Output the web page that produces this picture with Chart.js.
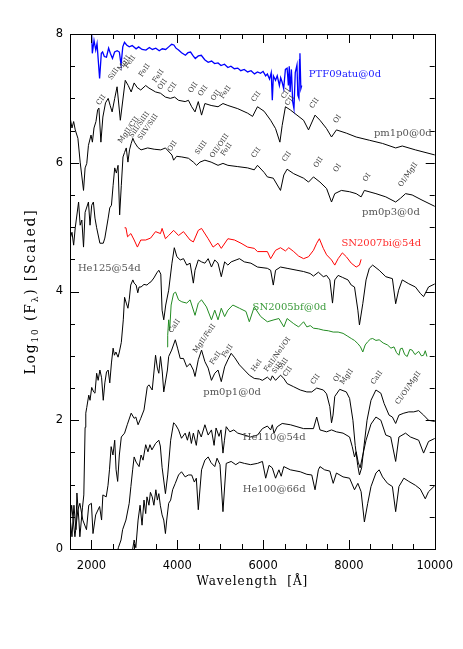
<!DOCTYPE html>
<html>
<head>
<meta charset="utf-8">
<script src="https://cdn.jsdelivr.net/npm/chart.js@4.4.1/dist/chart.umd.min.js"></script>
<style>
  body { margin: 0; background: #fff; }
  canvas { display: block; }
</style>
</head>
<body>
<canvas id="spectra" width="463" height="649"></canvas>
<script>
// spectra: [wavelength (A), log10 F scaled]
const ptf09atu = [[2000,8.10],[2020,7.70],[2060,7.90],[2100,7.75],[2130,7.85],[2190,7.31],[2230,7.70],[2260,7.72],[2300,7.65],[2350,7.64],[2400,7.78],[2440,7.70],[2490,7.62],[2540,7.72],[2600,7.74],[2650,7.72],[2690,7.52],[2730,7.80],[2770,7.87],[2820,7.83],[2880,7.80],[2950,7.82],[3040,7.77],[3100,7.80],[3180,7.76],[3270,7.75],[3350,7.79],[3420,7.76],[3500,7.78],[3580,7.74],[3650,7.77],[3730,7.76],[3800,7.80],[3870,7.84],[3920,7.83],[3970,7.78],[4030,7.75],[4100,7.71],[4190,7.67],[4250,7.71],[4310,7.72],[4370,7.66],[4420,7.62],[4490,7.66],[4560,7.67],[4640,7.60],[4720,7.56],[4800,7.58],[4870,7.54],[4950,7.55],[5020,7.51],[5100,7.53],[5180,7.48],[5250,7.50],[5330,7.46],[5410,7.47],[5480,7.43],[5560,7.45],[5640,7.41],[5720,7.43],[5800,7.38],[5870,7.41],[5940,7.39],[6000,7.42],[6060,7.35],[6100,7.38],[6150,7.30],[6190,7.40],[6215,6.97],[6240,7.35],[6290,7.28],[6330,7.35],[6380,7.20],[6410,7.32],[6445,7.25],[6480,7.15],[6520,7.45],[6560,7.47],[6590,7.20],[6610,7.50],[6630,7.10],[6660,7.45],[6690,6.95],[6720,6.84],[6750,7.40],[6790,7.52],[6810,7.05],[6836,7.00],[6850,7.60],[6859,7.70],[6880,7.15],[6900,7.20]];

const pm1p0 = [[1500,6.71],[1546,6.54],[1585,6.64],[1622,6.51],[1684,6.38],[1737,6.01],[1815,5.57],[1852,5.92],[1891,5.99],[1930,6.27],[1990,6.43],[2022,6.32],[2059,6.54],[2105,6.64],[2144,6.82],[2174,6.85],[2220,6.32],[2266,6.71],[2328,6.93],[2390,7.00],[2436,6.89],[2482,6.79],[2542,7.00],[2597,7.18],[2673,6.66],[2788,7.28],[2857,7.20],[2926,7.10],[2995,7.24],[3064,7.17],[3149,7.13],[3264,7.20],[3340,7.16],[3494,7.10],[3609,7.08],[3724,7.02],[3839,7.00],[3938,7.02],[4030,6.97],[4184,6.95],[4260,6.97],[4336,6.87],[4414,6.79],[4490,6.95],[4566,6.74],[4644,6.92],[4789,6.89],[4950,6.87],[5065,6.92],[5180,6.89],[5410,6.84],[5640,6.77],[5755,6.72],[5831,6.82],[5870,6.87],[6024,6.80],[6176,6.66],[6291,6.53],[6392,6.32],[6445,6.58],[6521,6.87],[6636,6.82],[6790,6.74],[6944,6.66],[7059,6.51],[7211,6.74],[7326,6.66],[7480,6.53],[7595,6.40],[7710,6.51],[7940,6.46],[8170,6.40],[8476,6.35],[8784,6.30],[9090,6.23],[9244,6.26],[9550,6.20],[10010,6.12]];

const pm0p3 = [[1500,5.03],[1507,4.83],[1546,4.92],[1585,4.72],[1622,4.99],[1700,5.39],[1737,5.03],[1776,5.11],[1815,4.69],[1852,5.23],[1930,5.39],[1967,5.03],[2006,5.34],[2045,5.39],[2082,5.14],[2121,4.99],[2197,4.75],[2275,4.75],[2312,4.83],[2390,5.14],[2427,5.30],[2466,5.34],[2505,5.65],[2542,5.92],[2581,5.84],[2620,5.96],[2657,5.19],[2696,5.65],[2735,6.09],[2772,6.16],[2811,6.23],[2850,6.01],[2887,6.20],[2926,6.30],[2965,6.38],[3002,6.32],[3080,6.24],[3156,6.20],[3310,6.23],[3462,6.21],[3616,6.20],[3724,6.23],[3876,6.12],[3915,6.04],[3984,6.10],[4106,6.09],[4260,6.07],[4375,6.01],[4451,5.96],[4529,6.01],[4644,6.04],[4789,6.01],[4950,5.96],[5065,5.99],[5180,5.96],[5410,5.94],[5640,5.92],[5794,5.89],[5870,5.96],[6024,5.85],[6100,5.78],[6238,5.76],[6406,5.57],[6483,5.81],[6560,5.90],[6714,5.83],[6944,5.76],[7059,5.70],[7174,5.78],[7326,5.70],[7480,5.60],[7595,5.39],[7671,5.52],[7825,5.57],[8016,5.55],[8170,5.52],[8285,5.47],[8361,5.57],[8630,5.52],[8860,5.47],[9090,5.39],[9205,5.45],[9320,5.52],[9474,5.50],[9704,5.42],[10010,5.32]];

const sn2007bi = [[2772,4.99],[2804,4.99],[2841,4.85],[2919,4.90],[2995,4.80],[3071,4.69],[3149,4.80],[3264,4.80],[3379,4.83],[3494,4.93],[3609,4.90],[3646,4.98],[3724,4.82],[3800,4.87],[3915,4.95],[4030,4.87],[4145,4.93],[4299,4.80],[4375,4.77],[4490,4.95],[4566,4.98],[4720,4.82],[4835,4.69],[4950,4.75],[5026,4.67],[5180,4.82],[5334,4.80],[5486,4.75],[5640,4.69],[5794,4.67],[5870,4.62],[6100,4.62],[6176,4.51],[6291,4.64],[6406,4.68],[6521,4.63],[6599,4.68],[6714,4.62],[6829,4.55],[6944,4.51],[7059,4.54],[7174,4.64],[7250,4.75],[7312,4.82],[7404,4.67],[7480,4.57],[7595,4.49],[7671,4.41],[7749,4.51],[7848,4.60],[7940,4.54],[8055,4.44],[8170,4.38],[8246,4.41],[8285,4.50]];

const he125 = [[1500,0.50],[1546,0.19],[1592,0.68],[1638,0.30],[1661,0.87],[1707,0.45],[1730,0.19],[1792,0.65],[1822,0.84],[1852,1.89],[1868,2.11],[1891,2.20],[1937,2.39],[1967,2.31],[2006,2.51],[2052,2.44],[2082,2.42],[2121,2.73],[2156,2.62],[2197,2.78],[2236,2.66],[2275,2.31],[2312,2.58],[2351,2.75],[2390,2.78],[2427,2.58],[2466,2.89],[2505,3.12],[2535,3.01],[2570,3.06],[2620,2.98],[2650,3.06],[2696,3.21],[2742,3.56],[2772,3.91],[2811,3.82],[2850,3.74],[2880,3.87],[2915,4.10],[2965,4.18],[2995,4.13],[3041,4.10],[3080,3.98],[3110,4.07],[3156,4.07],[3225,4.11],[3294,4.10],[3340,4.13],[3386,4.15],[3455,4.21],[3524,4.29],[3570,4.33],[3616,4.27],[3646,3.71],[3685,3.56],[3731,3.79],[3800,4.02],[3876,4.44],[3931,4.68],[3991,4.54],[4069,4.49],[4145,4.51],[4221,4.41],[4299,4.44],[4375,4.13],[4414,4.33],[4490,4.49],[4566,4.46],[4644,4.44],[4720,4.51],[4797,4.38],[4874,4.49],[4950,4.44],[5026,4.23],[5104,4.46],[5180,4.41],[5256,4.46],[5371,4.49],[5449,4.51],[5564,4.46],[5716,4.44],[5870,4.38],[6100,4.36],[6176,4.33],[6238,4.10],[6291,4.33],[6406,4.38],[6560,4.36],[6790,4.33],[6944,4.31],[7096,4.28],[7174,4.24],[7289,4.30],[7404,4.23],[7480,4.25],[7556,4.18],[7618,3.82],[7671,4.18],[7749,4.25],[7848,4.22],[7979,4.18],[8055,4.10],[8131,4.07],[8209,3.71],[8246,3.48],[8324,3.81],[8400,4.18],[8476,4.36],[8554,4.41],[8706,4.33],[8860,4.23],[9014,4.20],[9090,3.81],[9159,4.02],[9244,4.18],[9396,4.12],[9550,4.07],[9665,3.97],[9741,3.92],[9856,4.07],[10010,4.12]];

const sn2005bf = [[3761,3.14],[3777,3.32],[3800,3.56],[3823,3.40],[3857,3.79],[3915,3.97],[3961,3.99],[4030,3.87],[4106,3.84],[4221,3.82],[4299,3.87],[4414,3.63],[4490,3.82],[4566,3.87],[4681,3.76],[4797,3.56],[4874,3.71],[4950,3.56],[5026,3.74],[5104,3.61],[5180,3.71],[5295,3.79],[5449,3.74],[5601,3.69],[5679,3.53],[5794,3.76],[5946,3.61],[6100,3.53],[6254,3.56],[6369,3.58],[6484,3.45],[6560,3.58],[6714,3.50],[6829,3.45],[6944,3.53],[7020,3.45],[7100,3.47],[7174,3.43],[7290,3.42],[7404,3.40],[7520,3.39],[7634,3.37],[7750,3.37],[7864,3.35],[7960,3.31],[8055,3.27],[8130,3.24],[8209,3.19],[8270,3.14],[8324,3.06],[8380,3.17],[8439,3.22],[8500,3.26],[8554,3.27],[8630,3.24],[8706,3.25],[8800,3.20],[8899,3.17],[8980,3.12],[9051,3.14],[9110,3.05],[9166,3.01],[9200,3.11],[9244,3.12],[9300,3.02],[9359,2.99],[9420,3.10],[9474,3.09],[9540,3.02],[9626,3.07],[9690,3.00],[9741,3.01],[9780,3.08],[9819,2.99]];

const pm0p1 = [[1500,0.40],[1539,0.68],[1615,0.19],[1684,0.61],[1730,0.71],[1799,0.45],[1884,0.30],[1937,0.68],[1999,0.71],[2036,0.24],[2098,0.53],[2190,0.66],[2236,0.45],[2266,0.84],[2344,0.81],[2386,0.99],[2420,1.23],[2459,1.59],[2501,1.46],[2542,1.69],[2574,1.23],[2611,1.05],[2650,1.46],[2696,1.74],[2772,1.80],[2834,1.93],[2926,2.11],[2995,2.03],[3034,2.05],[3087,1.93],[3149,2.03],[3225,2.16],[3301,2.52],[3340,2.55],[3416,2.47],[3494,3.01],[3536,2.81],[3570,2.73],[3609,2.99],[3651,2.75],[3685,2.44],[3770,2.78],[3800,2.99],[3869,3.09],[3954,3.25],[4007,3.12],[4069,2.96],[4145,2.96],[4221,2.83],[4299,2.88],[4375,2.78],[4414,2.68],[4490,2.94],[4566,3.09],[4644,2.91],[4720,2.81],[4797,2.62],[4874,2.73],[4950,2.78],[5026,2.60],[5104,2.83],[5180,2.94],[5256,3.04],[5341,2.97],[5449,2.86],[5564,2.78],[5679,2.70],[5794,2.65],[5916,2.64],[5985,2.62],[6100,2.67],[6176,2.62],[6215,2.69],[6291,2.62],[6406,2.70],[6483,2.65],[6560,2.57],[6714,2.52],[6866,2.47],[7020,2.44],[7135,2.44],[7250,2.50],[7404,2.47],[7480,2.41],[7556,2.21],[7595,1.96],[7630,2.08],[7671,2.37],[7786,2.48],[7940,2.44],[8016,2.34],[8094,2.00],[8147,1.61],[8205,1.30],[8246,1.15],[8297,1.26],[8354,1.61],[8423,2.00],[8515,2.31],[8630,2.47],[8745,2.42],[8821,2.26],[8936,2.08],[9014,2.05],[9090,1.95],[9166,2.08],[9281,2.11],[9396,2.13],[9511,2.13],[9626,2.15],[9741,2.08],[9856,2.00],[10010,1.98]];

const he110 = [[2466,-0.40],[2558,-0.17],[2627,0.02],[2689,0.14],[2726,0.30],[2804,0.45],[2880,0.71],[2919,0.97],[2960,1.23],[2995,1.43],[3041,1.35],[3110,1.28],[3156,1.46],[3202,1.38],[3264,1.62],[3317,1.51],[3363,1.62],[3409,1.54],[3494,1.64],[3570,1.69],[3605,1.60],[3646,1.27],[3724,0.86],[3777,1.15],[3846,1.69],[3915,1.96],[3961,1.93],[4030,1.85],[4099,1.72],[4184,1.80],[4237,1.69],[4283,1.82],[4329,1.64],[4375,1.80],[4444,1.61],[4490,1.85],[4559,1.74],[4644,1.93],[4720,1.77],[4797,1.85],[4858,1.61],[4904,1.88],[4973,1.75],[5019,1.85],[5065,1.49],[5100,1.69],[5141,1.90],[5226,1.82],[5318,1.85],[5410,1.80],[5564,1.77],[5709,1.74],[5870,1.77],[5985,1.87],[6100,1.91],[6176,1.85],[6215,1.93],[6254,1.80],[6330,1.90],[6445,1.95],[6636,1.93],[6790,1.90],[6944,1.87],[7174,1.87],[7250,2.05],[7326,1.85],[7480,1.82],[7595,1.85],[7710,1.82],[7864,1.80],[8016,1.74],[8078,1.59],[8131,1.43],[8170,1.51],[8216,1.35],[8262,1.26],[8308,1.41],[8400,1.69],[8515,1.94],[8630,2.05],[8745,2.00],[8860,1.77],[8975,1.74],[9090,1.36],[9166,1.74],[9320,1.80],[9435,1.74],[9626,1.69],[9741,1.49],[9856,1.67],[10010,1.72]];

const he100 = [[2880,-0.33],[2949,-0.05],[2995,0.14],[3034,0.02],[3087,0.45],[3133,0.68],[3179,0.37],[3225,0.76],[3264,0.55],[3294,0.81],[3340,0.68],[3374,0.88],[3416,0.81],[3455,0.68],[3501,0.92],[3536,0.76],[3570,0.86],[3605,0.68],[3646,0.53],[3685,0.45],[3724,0.24],[3754,0.45],[3800,0.71],[3846,0.76],[3892,0.92],[3954,1.02],[4030,1.15],[4099,1.20],[4184,1.12],[4260,1.15],[4336,1.15],[4398,1.04],[4444,1.10],[4490,0.61],[4566,1.23],[4644,1.38],[4720,1.43],[4789,1.34],[4874,1.28],[4927,1.41],[4996,1.31],[5065,0.58],[5141,1.33],[5256,1.36],[5364,1.31],[5456,1.35],[5564,1.33],[5709,1.31],[5870,1.33],[5985,1.36],[6061,1.10],[6139,1.30],[6215,1.26],[6291,1.10],[6369,1.23],[6422,1.13],[6483,1.28],[6636,1.23],[6866,1.20],[7020,1.16],[7135,1.15],[7211,0.92],[7289,1.23],[7326,1.28],[7434,1.23],[7556,1.21],[7634,1.02],[7710,1.18],[7864,1.12],[8016,1.10],[8131,0.92],[8209,1.02],[8285,0.89],[8361,0.42],[8439,0.71],[8515,0.97],[8630,1.18],[8706,1.23],[8784,1.12],[8899,1.02],[9014,0.97],[9090,0.58],[9166,0.97],[9281,1.10],[9396,1.05],[9550,0.99],[9665,0.93],[9780,0.78],[9856,0.89],[10010,0.99]];

const xTicks = [2000, 4000, 6000, 8000, 10000];
const yTicks = [0, 2, 4, 6, 8];

const series = [
  { name: "PTF09atu@0d", points: ptf09atu, color: "#0000ff" },
  { name: "pm1p0@0d", points: pm1p0, color: "#000000" },
  { name: "pm0p3@0d", points: pm0p3, color: "#000000" },
  { name: "SN2007bi@54d", points: sn2007bi, color: "#ff0000" },
  { name: "He125@54d", points: he125, color: "#000000" },
  { name: "SN2005bf@0d", points: sn2005bf, color: "#228b22" },
  { name: "pm0p1@0d", points: pm0p1, color: "#000000" },
  { name: "He110@54d", points: he110, color: "#000000" },
  { name: "He100@66d", points: he100, color: "#000000" },
];

// where each spectrum name sits (data coords) and its colour
const nameTags = [
  ["PTF09atu@0d", 7066, 7.38, "#1a1aff"],
  ["pm1p0@0d", 8584, 6.46, "#555"],
  ["pm0p3@0d", 8308, 5.23, "#555"],
  ["SN2007bi@54d", 7825, 4.75, "#ff2a2a"],
  ["He125@54d", 1684, 4.36, "#555"],
  ["SN2005bf@0d", 5755, 3.76, "#3a9a3a"],
  ["pm0p1@0d", 4605, 2.44, "#555"],
  ["He110@54d", 5525, 1.74, "#555"],
  ["He100@66d", 5525, 0.92, "#555"],
];

// line identifications, bottom-left anchor in data coords
const lineIds = [
  ["CII", 2190, 6.89], ["SiII", 2466, 7.28], ["MgII", 2680, 7.42], ["FeII", 2840, 7.46],
  ["FeII", 3179, 7.33], ["FeII", 3501, 7.24], ["OII", 3616, 7.13], ["CII", 3846, 7.08],
  ["OII", 4329, 7.08], ["OII", 4559, 7.03], ["OII", 4858, 6.96], ["FeII", 5065, 6.99],
  ["CII", 5801, 6.94], ["CII", 6491, 6.99], ["CII", 6583, 6.88], ["CII", 7158, 6.84], ["OI", 7710, 6.61],
  ["MgII/CII", 2696, 6.30], ["SiII/SiIII", 2949, 6.38], ["SiIV/SiII", 3156, 6.35],
  ["OII", 3846, 6.17], ["SiIII", 4490, 6.12], ["OII/OIII", 4835, 6.07], ["FeII", 5088, 6.10],
  ["CII", 5801, 6.07], ["CII", 6514, 6.01], ["OII", 7250, 5.92], ["OI", 7710, 5.85],
  ["OI", 8400, 5.70], ["OI/MgII", 9228, 5.62],
  ["CaII", 3869, 3.35], ["MgII/FeII", 4444, 3.04], ["FeII", 4835, 2.86], ["FeII", 5111, 2.97],
  ["HeI", 5801, 2.75], ["FeII/NeI/OI", 6100, 2.75], ["SiII", 6284, 2.72], ["SiII", 6422, 2.78],
  ["CII", 6537, 2.67], ["CII", 7181, 2.55], ["OI", 7710, 2.59], ["MgII", 7871, 2.55],
  ["CaII", 8584, 2.55], ["CI/OI/MgII", 9159, 2.24],
];

const serif = "'DejaVu Serif', serif";
const sans = "'DejaVu Sans', sans-serif";

const framePlugin = {
  id: "frame",
  afterDatasetsDraw(chart) {
    const { ctx, chartArea: a, scales: { x, y } } = chart;
    ctx.save();
    ctx.strokeStyle = "#000";
    ctx.lineWidth = 1;
    const seg = (x1, y1, x2, y2) => { ctx.beginPath(); ctx.moveTo(x1, y1); ctx.lineTo(x2, y2); ctx.stroke(); };

    // box
    ctx.strokeRect(Math.round(a.left) + 0.5, Math.round(a.top) + 0.5,
      Math.round(a.right - a.left), Math.round(a.bottom - a.top));

    // inward ticks on all sides
    for (let v = 1500; v <= 10000; v += 500) {
      const px = Math.round(x.getPixelForValue(v)) + 0.5;
      const len = v % 2000 === 0 ? 9 : 5;
      seg(px, a.bottom, px, a.bottom - len);
      seg(px, a.top, px, a.top + len);
    }
    for (let v = 0; v <= 8; v += 0.5) {
      const py = Math.round(y.getPixelForValue(v)) + 0.5;
      const len = v % 2 === 0 ? 9 : 5;
      seg(a.left, py, a.left + len, py);
      seg(a.right, py, a.right - len, py);
    }

    // spectrum names
    ctx.font = "10px " + serif;
    ctx.textBaseline = "middle";
    ctx.textAlign = "left";
    nameTags.forEach(([t, w, f, c]) => {
      ctx.fillStyle = c;
      ctx.fillText(t, x.getPixelForValue(w), y.getPixelForValue(f));
    });

    // line ids, rotated
    ctx.font = "7px " + serif;
    ctx.fillStyle = "#333";
    ctx.textBaseline = "alphabetic";
    lineIds.forEach(([t, w, f]) => {
      ctx.save();
      ctx.translate(x.getPixelForValue(w), y.getPixelForValue(f));
      ctx.rotate(-55 * Math.PI / 180);
      ctx.fillText(t, 0, 0);
      ctx.restore();
    });

    // axis titles
    ctx.fillStyle = "#000";
    ctx.font = "12px " + serif;
    ctx.letterSpacing = "1px";
    ctx.textAlign = "center";
    ctx.textBaseline = "middle";
    ctx.fillText("Wavelength  [\u00c5]", (a.left + a.right) / 2, a.bottom + 33);

    const parts = [["Log", 0], ["10", 1], [" (F", 0], ["\u03bb", 1], [") [Scaled]", 0]];
    const big = "14px " + serif, small = "9px " + serif;
    ctx.letterSpacing = "1.8px";
    let total = 0;
    parts.forEach(([t, sub]) => { ctx.font = sub ? small : big; total += ctx.measureText(t).width; });
    ctx.translate(31, (a.top + a.bottom) / 2);
    ctx.rotate(-Math.PI / 2);
    ctx.textAlign = "left";
    ctx.textBaseline = "alphabetic";
    let cx = -total / 2;
    parts.forEach(([t, sub]) => {
      ctx.font = sub ? small : big;
      ctx.fillText(t, cx, sub ? 7 : 4);
      cx += ctx.measureText(t).width;
    });
    ctx.restore();
  }
};

new Chart(document.getElementById("spectra"), {
  type: "line",
  data: {
    datasets: series.map(s => ({
      label: s.name,
      data: s.points.map(([w, f]) => ({ x: w, y: f })),
      borderColor: s.color,
      borderWidth: s.color === "#0000ff" ? 1.3 : 1,
      pointRadius: 0,
      tension: 0,
      fill: false,
    })),
  },
  options: {
    responsive: false,
    animation: false,
    devicePixelRatio: 1,
    layout: { padding: { top: 34, right: 23, left: 0, bottom: 0 } },
    plugins: { legend: { display: false }, tooltip: { enabled: false } },
    scales: {
      x: {
        type: "linear",
        min: 1500,
        max: 10000,
        grid: { display: false, drawTicks: false, tickLength: 0 },
        border: { display: false },
        afterBuildTicks: s => { s.ticks = xTicks.map(v => ({ value: v })); },
        afterFit: s => { s.height = 100; },
        ticks: {
          font: { family: sans, size: 11.5 }, color: "#000", padding: 10, maxRotation: 0, autoSkip: false,
          callback: v => String(v),
        },
      },
      y: {
        type: "linear",
        min: 0,
        max: 8,
        grid: { display: false, drawTicks: false, tickLength: 0 },
        border: { display: false },
        afterBuildTicks: s => { s.ticks = yTicks.map(v => ({ value: v })); },
        afterFit: s => { s.width = 70; },
        ticks: { font: { family: sans, size: 11.5 }, color: "#000", padding: 7, callback: v => String(v) },
      },
    },
  },
  plugins: [framePlugin],
});
</script>
</body>
</html>
